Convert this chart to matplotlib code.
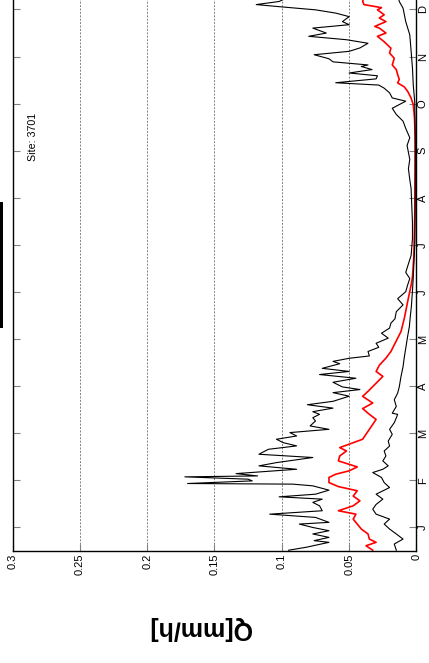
import numpy as np
import matplotlib
matplotlib.use('Agg')
import matplotlib.pyplot as plt
from matplotlib.patches import Rectangle

matplotlib.rcParams['font.family'] = ['Liberation Sans', 'DejaVu Sans']

# upper black line (day of year, Q in mm/h)
day_hi = [0.5, 2.4, 5.6, 6.7, 8.8, 11, 13.1, 15.2, 17.4, 18.5, 21.7, 23.8, 26, 29.2, 31.4,
          33.5, 35, 36.7, 39.3, 42.1, 43.2, 43.6, 45.3, 46.4, 47.9, 48.5, 50, 52.8, 55,
          57.1, 60.4, 62.5, 65.7, 67.9, 70, 72.2, 74.3, 76.5, 78.6, 80.8, 84, 86.1, 88.3,
          90, 92.3, 94.5, 96.7, 100, 102.3, 104.3, 106, 109, 111.6, 114, 116, 118, 121,
          122.5, 124.5, 126, 128.9, 131.6, 134.2, 137.5, 140.7, 144, 147.2, 150, 154.6,
          159, 163, 167.5, 171.8, 176, 180, 191, 201.7, 212, 223, 234, 240, 247, 253, 262,
          267, 273, 277.7, 282, 286, 290.6, 292.7, 296, 299, 301, 302.5, 305, 307, 308.8,
          311, 313, 314, 316, 318, 320.6, 322.8, 325, 328, 330.3, 332.5, 334.6, 337.8,
          340, 342, 345.2, 347.5, 349.6, 351.8, 353, 355, 360, 365]
q_hi = [0.095, 0.082, 0.065, 0.076, 0.065, 0.077, 0.065, 0.077, 0.087, 0.065, 0.075, 0.109,
        0.07, 0.072, 0.077, 0.07, 0.102, 0.075, 0.065, 0.077, 0.092, 0.17, 0.122, 0.125,
        0.172, 0.118, 0.134, 0.089, 0.117, 0.104, 0.077, 0.117, 0.11, 0.089, 0.099, 0.104,
        0.089, 0.094, 0.065, 0.079, 0.075, 0.077, 0.072,
        0.077, 0.062, 0.081, 0.062, 0.05, 0.062, 0.042, 0.055, 0.062, 0.045, 0.072, 0.05,
        0.07, 0.057, 0.062, 0.05, 0.035, 0.036, 0.028, 0.03, 0.021, 0.026, 0.02, 0.019,
        0.016, 0.015, 0.01, 0.014, 0.008, 0.0066, 0.005, 0.008, 0.004, 0.003, 0.003,
        0.0035, 0.004, 0.005, 0.006, 0.005, 0.007,
        0.005, 0.008, 0.01, 0.015, 0.018, 0.008, 0.018, 0.02, 0.024, 0.028, 0.06, 0.03,
        0.029, 0.05, 0.033, 0.041, 0.036, 0.062, 0.065, 0.076, 0.05, 0.042, 0.036, 0.052,
        0.08, 0.067, 0.077, 0.05, 0.055, 0.05, 0.06, 0.075, 0.104, 0.119, 0.102, 0.09, 0.1]

# red line
day_mid = [0.5, 3.4, 5.6, 7.7, 11, 14.2, 17.4, 20.6, 23.8, 26, 29.2, 32.4, 35.5, 38.9, 41.6,
           44.2, 47.5, 49.6, 51.8, 54.3, 56, 58.2, 61.4, 64.6, 66.8, 69, 72.2, 75.4, 78.6,
           81.8, 85, 88.3,
           92, 95.6, 99.9, 104, 108.4, 112.8, 116, 120, 124.6, 128.9, 133.2, 137.5, 141.8,
           146, 150.5, 155.7, 161, 166.4, 171.8, 177, 190, 220, 250, 265,
           268, 280, 288.4, 292.6, 297, 299.8, 302.4, 304.6, 307.8, 311, 314, 318.3, 321.7,
           324.8, 329, 332.5, 334.6, 337.8, 338.9, 342, 344.3, 346.4, 349.6, 351, 353, 355,
           360, 365]
q_mid = [0.0325, 0.0375, 0.03, 0.035, 0.036, 0.041, 0.044, 0.047, 0.045, 0.058, 0.047, 0.042,
         0.047, 0.044, 0.058, 0.065, 0.065, 0.06, 0.05, 0.044, 0.05, 0.058, 0.057, 0.052,
         0.057, 0.05, 0.04, 0.0375, 0.035, 0.0325, 0.03, 0.035,
         0.04, 0.0325, 0.04, 0.035, 0.03, 0.025, 0.03, 0.0276, 0.0227, 0.019, 0.0165, 0.014,
         0.0115, 0.0103, 0.009, 0.0078, 0.0066, 0.0053, 0.004, 0.003, 0.002, 0.0012, 0.001,
         0.001,
         0.001, 0.0015, 0.0024, 0.004, 0.0066, 0.009, 0.014, 0.0128, 0.014, 0.015, 0.018,
         0.0165, 0.02, 0.019, 0.024, 0.029, 0.0227, 0.0276, 0.031, 0.0227, 0.0276, 0.024,
         0.029, 0.026, 0.039, 0.04, 0.038, 0.035]

# lower black line
day_lo = [0.5, 4.5, 7.7, 11, 14.2, 17.4, 20.6, 23.8, 27, 30.1, 33.5, 36.7, 41, 44.2, 47.5,
          50.7, 52.8, 55, 58.2, 61.4, 64.6, 67.8, 71, 75.4, 78.6, 82.9, 86, 88.3,
          89, 93.4, 97.7, 102, 106, 112.8, 119, 125.5, 132, 138.6, 145, 151.5, 158, 164.3,
          170.7, 177, 200, 230, 260,
          268, 290, 301, 312, 323, 333.5, 342, 346.4, 350.7, 355, 360, 365]
q_lo = [0.015, 0.0165, 0.01, 0.015, 0.02, 0.024, 0.02, 0.03, 0.0325, 0.03, 0.025, 0.03, 0.02,
        0.024, 0.026, 0.0325, 0.025, 0.021, 0.025, 0.0227, 0.024, 0.02, 0.021, 0.018, 0.02,
        0.0165, 0.015, 0.014,
        0.018, 0.015, 0.0165, 0.014, 0.0128, 0.0115, 0.01, 0.009, 0.0078, 0.0066, 0.0053,
        0.0046, 0.0038, 0.0033, 0.0028, 0.0024, 0.0012, 0.001, 0.0009,
        0.001, 0.0013, 0.0024, 0.003, 0.004, 0.005, 0.008, 0.009, 0.01, 0.0128, 0.014, 0.015]

months = ['J', 'F', 'M', 'A', 'M', 'J', 'J', 'A', 'S', 'O', 'N', 'D']
q_ticks = [0, 0.05, 0.1, 0.15, 0.2, 0.25, 0.3]

fig = plt.figure(figsize=(4.29, 6.63), dpi=100)
ax = fig.add_axes([12.5 / 429, 112 / 663, 404 / 429, 565 / 663])

ax.plot(q_hi, day_hi, color='k', lw=0.8)
ax.plot(q_mid, day_mid, color='red', lw=1.2)
ax.plot(q_lo, day_lo, color='k', lw=0.8)

ax.set_xlim(0.3, 0)
ax.set_ylim(0, 365)
ax.set_xticks(q_ticks)
ax.set_xticklabels(['0', '0.05', '0.1', '0.15', '0.2', '0.25', '0.3'], rotation=90)
ax.set_yticks([15.2 + 30.42 * k for k in range(12)])
ax.set_yticklabels(months, rotation=90, va='center')
ax.yaxis.tick_right()
ax.tick_params(axis='both', direction='in', length=5, color='gray', labelsize=8,
               top=True, bottom=True, left=True, right=True)
ax.tick_params(axis='y', pad=1)
ax.tick_params(axis='x', pad=2)
for v in q_ticks[1:-1]:
    ax.axvline(v, color='gray', lw=0.7, ls=(0, (2, 1.5)), zorder=0)
for s in ax.spines.values():
    s.set_linewidth(1.0)

fig.text(200 / 429, 1 - 628 / 663, 'Q[mm/h]', rotation=180, ha='center', va='center',
         fontsize=18, fontweight='bold')
fig.text(33 / 429, 1 - 137 / 663, 'Site: 3701', rotation=90, ha='center', va='center',
         fontsize=7.7)
fig.patches.append(Rectangle((0, 1 - 328 / 663), 3 / 429, 126 / 663,
                             transform=fig.transFigure, facecolor='k', edgecolor='none'))

fig.savefig('out.png', dpi=100)
